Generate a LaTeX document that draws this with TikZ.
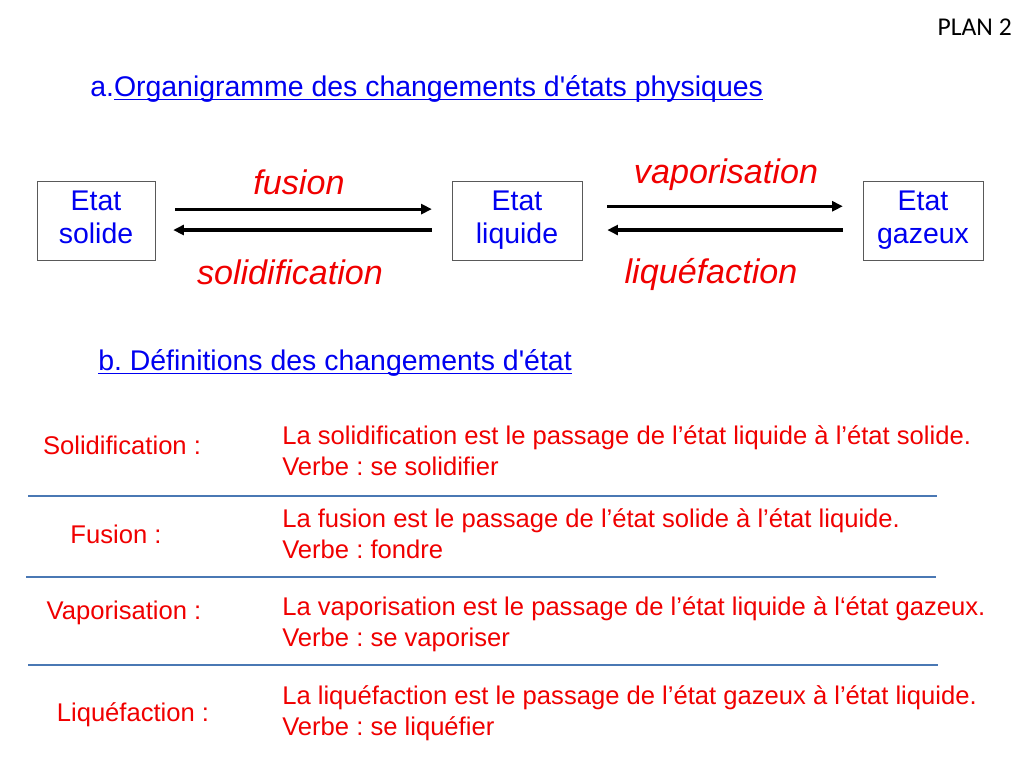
\documentclass[tikz,border=0pt]{standalone}
\usepackage{fontspec}
\setmainfont{Liberation Sans}
\newfontfamily\plancfont{Carlito}
\usetikzlibrary{arrows.meta}
\definecolor{txtblue}{RGB}{0,0,240}
\definecolor{txtred}{RGB}{240,0,0}
\definecolor{sepblue}{RGB}{74,120,180}
\newcommand\souligne[1]{\setbox0\hbox{#1}\rlap{\rule[-2.6pt]{\wd0}{0.9pt}}\box0}
\frenchspacing

\begin{document}
\begin{tikzpicture}[x=0.703125pt, y=-0.703125pt,
etat/.style={draw=black!65, fill=white, rectangle, align=center, text=txtblue, inner sep=0pt, minimum height=55.5pt, font=\fontsize{20}{23}\selectfont, execute at end node={\vphantom{q}}},
etiquette/.style={text=txtred, inner sep=0pt, font=\fontsize{24}{28}\selectfont\itshape},
titre/.style={anchor=west, text=txtblue, inner sep=0pt, font=\fontsize{20}{24}\selectfont},
nom/.style={text=txtred, inner sep=0pt, font=\fontsize{18}{22}\selectfont},
defn/.style={anchor=west, align=left, text=txtred, inner sep=0pt, font=\fontsize{18}{21.8}\selectfont},
fleche/.style={line width=2.2pt, -{Triangle[length=7.5pt, width=7pt]}},
separateur/.style={draw=sepblue, line width=0.9pt}]

\useasboundingbox[fill=white] (0,0) rectangle (1024,768);

% en-tete
\node[anchor=east, inner sep=0pt, font=\fontsize{18}{22}\plancfont] (plan) at (1012,27) {PLAN 2};
\node[titre] (titreA) at (90,89) {a.\souligne{Organigramme des changements d\textquotesingle états physiques}};

% organigramme
\node[etat, minimum width=83pt]		(solide)	at (96,220.5)		{Etat\\solide};
\node[etat, minimum width=91.4pt]	(liquide)	at (517,220.5)		{Etat\\liquide};
\node[etat, minimum width=84.4pt]	(gazeux)	at (923,220.5)		{Etat\\gazeux};

\path[fleche]
 ([yshift=8pt]solide.east)		edge[shorten <=14pt, shorten >=14pt]		([yshift=8pt]liquide.west)
 ([yshift=-6.7pt]liquide.west)	edge[shorten <=14pt, shorten >=12.6pt]		([yshift=-6.7pt]solide.east)
 ([yshift=10pt]liquide.east)	edge[shorten <=17.6pt, shorten >=14pt]		([yshift=10pt]gazeux.west)
 ([yshift=-6.7pt]gazeux.west)	edge[shorten <=14pt, shorten >=17.6pt]		([yshift=-6.7pt]liquide.east);

\node[etiquette] (fusion)		at (299,182)	{fusion};
\node[etiquette] (solidif)		at (290,272)	{solidification};
\node[etiquette] (vaporis)		at (726,175)	{vaporisation};
\node[etiquette] (liquef)		at (711,274)	{liquéfaction};

% definitions
\node[titre] (titreB) at (98,363) {\souligne{b. Définitions des changements d\textquotesingle état}};

\node[nom] (nomSol)	at (122,445)	{Solidification :};
\node[nom] (nomFus)	at (116,534)	{Fusion :};
\node[nom] (nomVap)	at (124,613)	{Vaporisation :};
\node[nom] (nomLiq)	at (133,715)	{Liquéfaction :};

\node[defn] (defSol)	at (282,450.5)	{La solidification est le passage de l’état liquide à l’état solide.\\Verbe : se solidifier};
\node[defn] (defFus)	at (282,534)	{La fusion est le passage de l’état solide à l’état liquide.\\Verbe : fondre};
\node[defn] (defVap)	at (282,624)	{La vaporisation est le passage de l’état liquide à l‘état gazeux.\\Verbe : se vaporiser};
\node[defn] (defLiq)	at (282,713.5)	{La liquéfaction est le passage de l’état gazeux à l’état liquide.\\Verbe : se liquéfier};

\draw[separateur] (28,496) -- (937,496);
\draw[separateur] (26,577) -- (936,577);
\draw[separateur] (28,665) -- (938,665);

\end{tikzpicture}
\end{document}
